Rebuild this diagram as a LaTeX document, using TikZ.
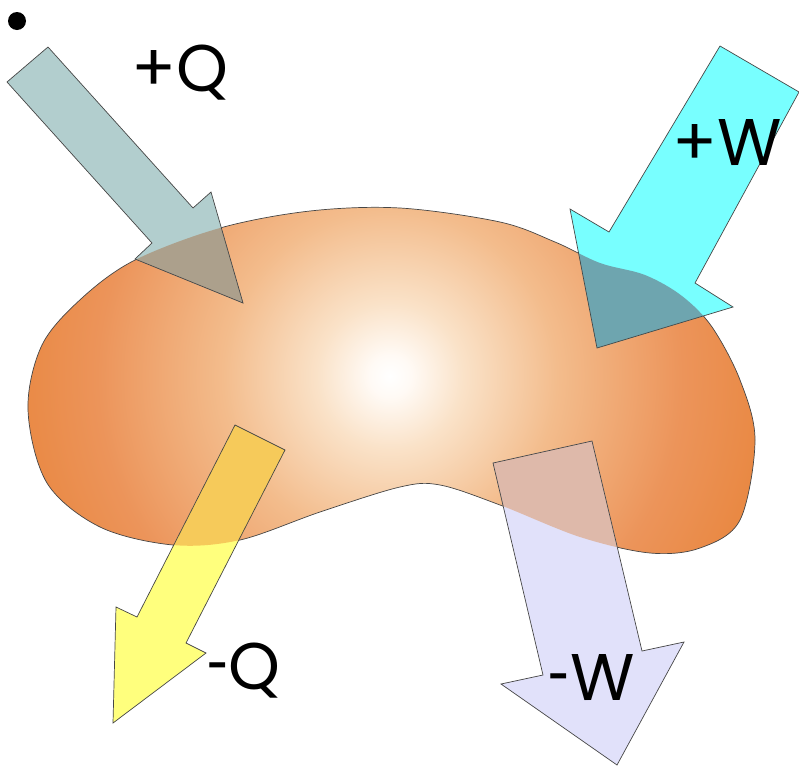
\documentclass[tikz,border=0pt]{standalone}
\usepackage{fontspec}
\setmainfont{Poppins}
\usepackage{graphicx}
\definecolor{bc0}{RGB}{255,250,245}
\definecolor{bc1}{RGB}{250,226,200}
\definecolor{bc2}{RGB}{243,188,140}
\definecolor{bc3}{RGB}{236,148,90}
\definecolor{bc4}{RGB}{231,128,50}
\definecolor{qout}{RGB}{178,206,206}
\definecolor{qin}{RGB}{172,160,140}
\definecolor{wout}{RGB}{120,255,255}
\definecolor{win}{RGB}{110,165,175}
\definecolor{mqout}{RGB}{255,255,125}
\definecolor{mqin}{RGB}{246,202,90}
\definecolor{mwout}{RGB}{225,225,250}
\definecolor{mwin}{RGB}{222,185,170}
\definecolor{edge}{RGB}{70,70,70}
\pgfdeclareradialshading{blobshade}{\pgfpoint{0bp}{0bp}}{color(0bp)=(white); color(1bp)=(bc0); color(3.5bp)=(bc1); color(8bp)=(bc2); color(14bp)=(bc3); color(21bp)=(bc4); color(50bp)=(bc4)}
\tikzset{
  outline/.style={draw=edge, line width=0.7pt, line join=miter},
  label/.style={font=\fontsize{66}{70}\selectfont, inner sep=0pt, text=black, anchor=base}
}
\newcommand{\shorthyph}{\scalebox{0.6}[1]{-}}
\def\blobpath{plot[smooth cycle, tension=0.55] coordinates {(135,260) (220,228) (310,211) (400,208) (500,222) (555,242) (600,263) (645,275) (682,296) (712,327) (740,380) (755,440) (740,520) (700,548) (650,553) (580,537) (500,505) (440,485) (400,487) (320,512) (240,540) (173,545) (100,527) (47,483) (28,410) (42,345) (82,298)}}
\def\pqpath{(7,82) -- (48,47) -- (193,208) -- (211,192) -- (243,303) -- (135,259) -- (152,243) -- cycle}
\def\pwpath{(720,46) -- (799,92) -- (695,283) -- (733,307) -- (597,348) -- (570,209) -- (609,232) -- cycle}
\def\mqpath{(235,425) -- (285,450) -- (186,643) -- (206,653) -- (113,723) -- (116,607) -- (137,617) -- cycle}
\def\mwpath{(493,463) -- (592,441) -- (642,651) -- (684,642) -- (617,765) -- (501,684) -- (543,675) -- cycle}
\begin{document}
\begin{tikzpicture}[x=1pt,y=-1pt]
\useasboundingbox (0,0) rectangle (799,766);
% blob
\begin{scope}
  \clip \blobpath;
  \shade[shading=blobshade] (390,376) circle[radius=523pt];
\end{scope}
\draw[edge, line width=0.7pt] \blobpath;
% arrows, outside colour
\fill[qout] \pqpath;
\fill[wout] \pwpath;
\fill[mqout] \mqpath;
\fill[mwout] \mwpath;
% arrows, overlap with the blob
\begin{scope}
  \clip \blobpath;
  \fill[qin] \pqpath;
  \fill[win] \pwpath;
  \fill[mqin] \mqpath;
  \fill[mwin] \mwpath;
\end{scope}
\draw[outline] \pqpath;
\draw[outline] \pwpath;
\draw[outline] \mqpath;
\draw[outline] \mwpath;
% bullet
\fill[black] (17,21) circle[radius=9pt];
% labels
\node[label] (pq) at (180,91) {+Q};
\node[label] (pw) at (727,165) {+W};
\node[label] (mq) at (244,689) {\shorthyph Q};
\node[label] (mw) at (592,700) {\shorthyph W};
\end{tikzpicture}
\end{document}
